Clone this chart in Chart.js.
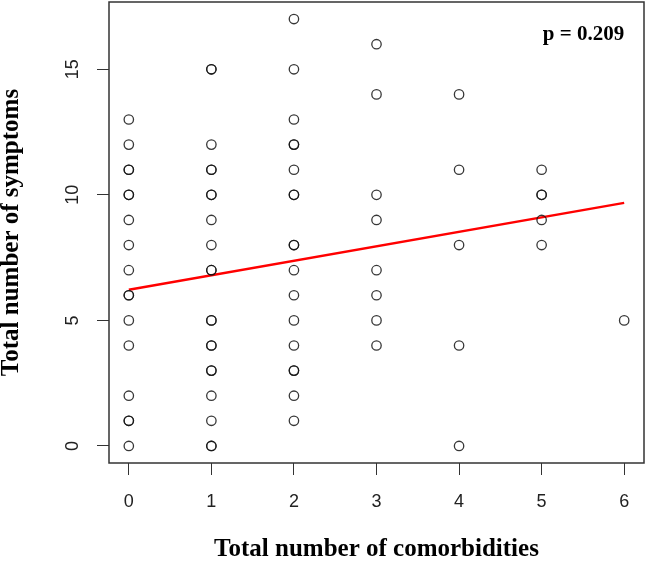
<!DOCTYPE html>
<html lang="en">
<head>
  <meta charset="UTF-8" />
  <title>Symptoms vs comorbidities</title>
  <script src="https://cdn.jsdelivr.net/npm/chart.js"></script>
  <style>
    body { margin: 0; background: #fff; }
    canvas { display: block; }
  </style>
</head>
<body>
  <canvas id="scatter" width="647" height="561"></canvas>

  <script>
    // ------------------------------------------
    // Data (duplicates = overlapping circles)
    // ------------------------------------------
    const comorbidities = [
      0,0,0,0,0,0,0,0,0,0,0,0,0,0,0,0,0,
      1,1,1,1,1,1,1,1,1,1,1,1,1,1,1,1,1,1,1,1,1,
      2,2,2,2,2,2,2,2,2,2,2,2,2,2,2,2,2,2,
      3,3,3,3,3,3,3,3,
      4,4,4,4,4,
      5,5,5,5,5,
      6
    ];
    const symptoms = [
      13,12,11,11,10,10,9,8,7,6,6,5,4,2,1,1,0,
      15,15,12,11,11,10,10,9,8,7,7,5,5,4,4,3,3,2,1,0,0,
      17,15,13,12,12,11,10,10,8,8,7,6,5,4,3,3,2,1,
      16,14,10,9,7,6,5,4,
      14,11,8,4,0,
      11,10,10,9,8,
      5
    ];

    // fitted line endpoints (x, y)
    const fitX = [0, 6];
    const fitY = [6.22, 9.68];

    const X_TICKS = [0, 1, 2, 3, 4, 5, 6];
    const Y_TICKS = [0, 5, 10, 15];
    const P_LABEL = 'p = 0.209';

    // ------------------------------------------
    // Helpers
    // ------------------------------------------
    const points = comorbidities.map((x, i) => ({ x: x, y: symptoms[i] }));
    const fitLine = fitX.map((x, i) => ({ x: x, y: fitY[i] }));

    // draws the R-style box and the p-value text
    const boxPlugin = {
      id: 'boxPlugin',
      afterDraw(chart) {
        const { ctx, chartArea: a, scales } = chart;
        ctx.save();
        ctx.strokeStyle = '#333';
        ctx.lineWidth = 1.5;
        ctx.strokeRect(a.left, a.top, a.right - a.left, a.bottom - a.top);

        ctx.fillStyle = '#000';
        ctx.font = 'bold 21px "Liberation Serif"';
        ctx.textAlign = 'right';
        ctx.textBaseline = 'alphabetic';
        ctx.fillText(P_LABEL, scales.x.getPixelForValue(6), scales.y.getPixelForValue(16.17));
        ctx.restore();
      }
    };

    const tickFont = { family: 'Liberation Sans', size: 18 };
    const titleFont = { family: 'Liberation Serif', size: 25, weight: 'bold', lineHeight: 0.9 };

    new Chart(document.getElementById('scatter'), {
      type: 'scatter',
      data: {
        datasets: [
          {
            data: points,
            pointStyle: 'circle',
            pointRadius: 4.7,
            pointHoverRadius: 4.7,
            borderWidth: 1.3,
            borderColor: 'rgba(20,20,20,0.85)',
            backgroundColor: 'rgba(0,0,0,0)'
          },
          {
            type: 'line',
            data: fitLine,
            borderColor: '#ff0000',
            borderWidth: 2.5,
            pointRadius: 0,
            fill: false
          }
        ]
      },
      options: {
        responsive: false,
        animation: false,
        layout: { autoPadding: false, padding: { top: 2, right: 3, left: 0, bottom: 0 } },
        plugins: {
          legend: { display: false },
          tooltip: { enabled: false }
        },
        scales: {
          x: {
            type: 'linear',
            min: -0.24,
            max: 6.24,
            afterBuildTicks: s => { s.ticks = X_TICKS.map(v => ({ value: v })); },
            afterFit: s => { s.height = 98; s.paddingLeft = 0; s.paddingRight = 0; },
            border: { display: false },
            grid: { drawOnChartArea: false, drawTicks: true, tickLength: 12, color: '#333', lineWidth: 1 },
            ticks: { autoSkip: false, maxRotation: 0, padding: 16, color: '#222', font: tickFont },
            title: {
              display: true,
              text: 'Total number of comorbidities',
              color: '#000',
              font: titleFont,
              padding: { top: 0, bottom: 0 }
            }
          },
          y: {
            type: 'linear',
            min: -0.68,
            max: 17.68,
            afterBuildTicks: s => { s.ticks = Y_TICKS.map(v => ({ value: v })); },
            afterFit: s => { s.width = 109; s.paddingTop = 0; s.paddingBottom = 0; },
            border: { display: false },
            grid: { drawOnChartArea: false, drawTicks: true, tickLength: 12, color: '#333', lineWidth: 1 },
            ticks: {
              autoSkip: false,
              minRotation: 90,
              maxRotation: 90,
              crossAlign: 'center',
              padding: 14,
              color: '#222',
              font: tickFont
            },
            title: {
              display: true,
              text: 'Total number of symptoms',
              color: '#000',
              font: titleFont,
              padding: { top: 0, bottom: 0 }
            }
          }
        }
      },
      plugins: [boxPlugin]
    });
  </script>
</body>
</html>
